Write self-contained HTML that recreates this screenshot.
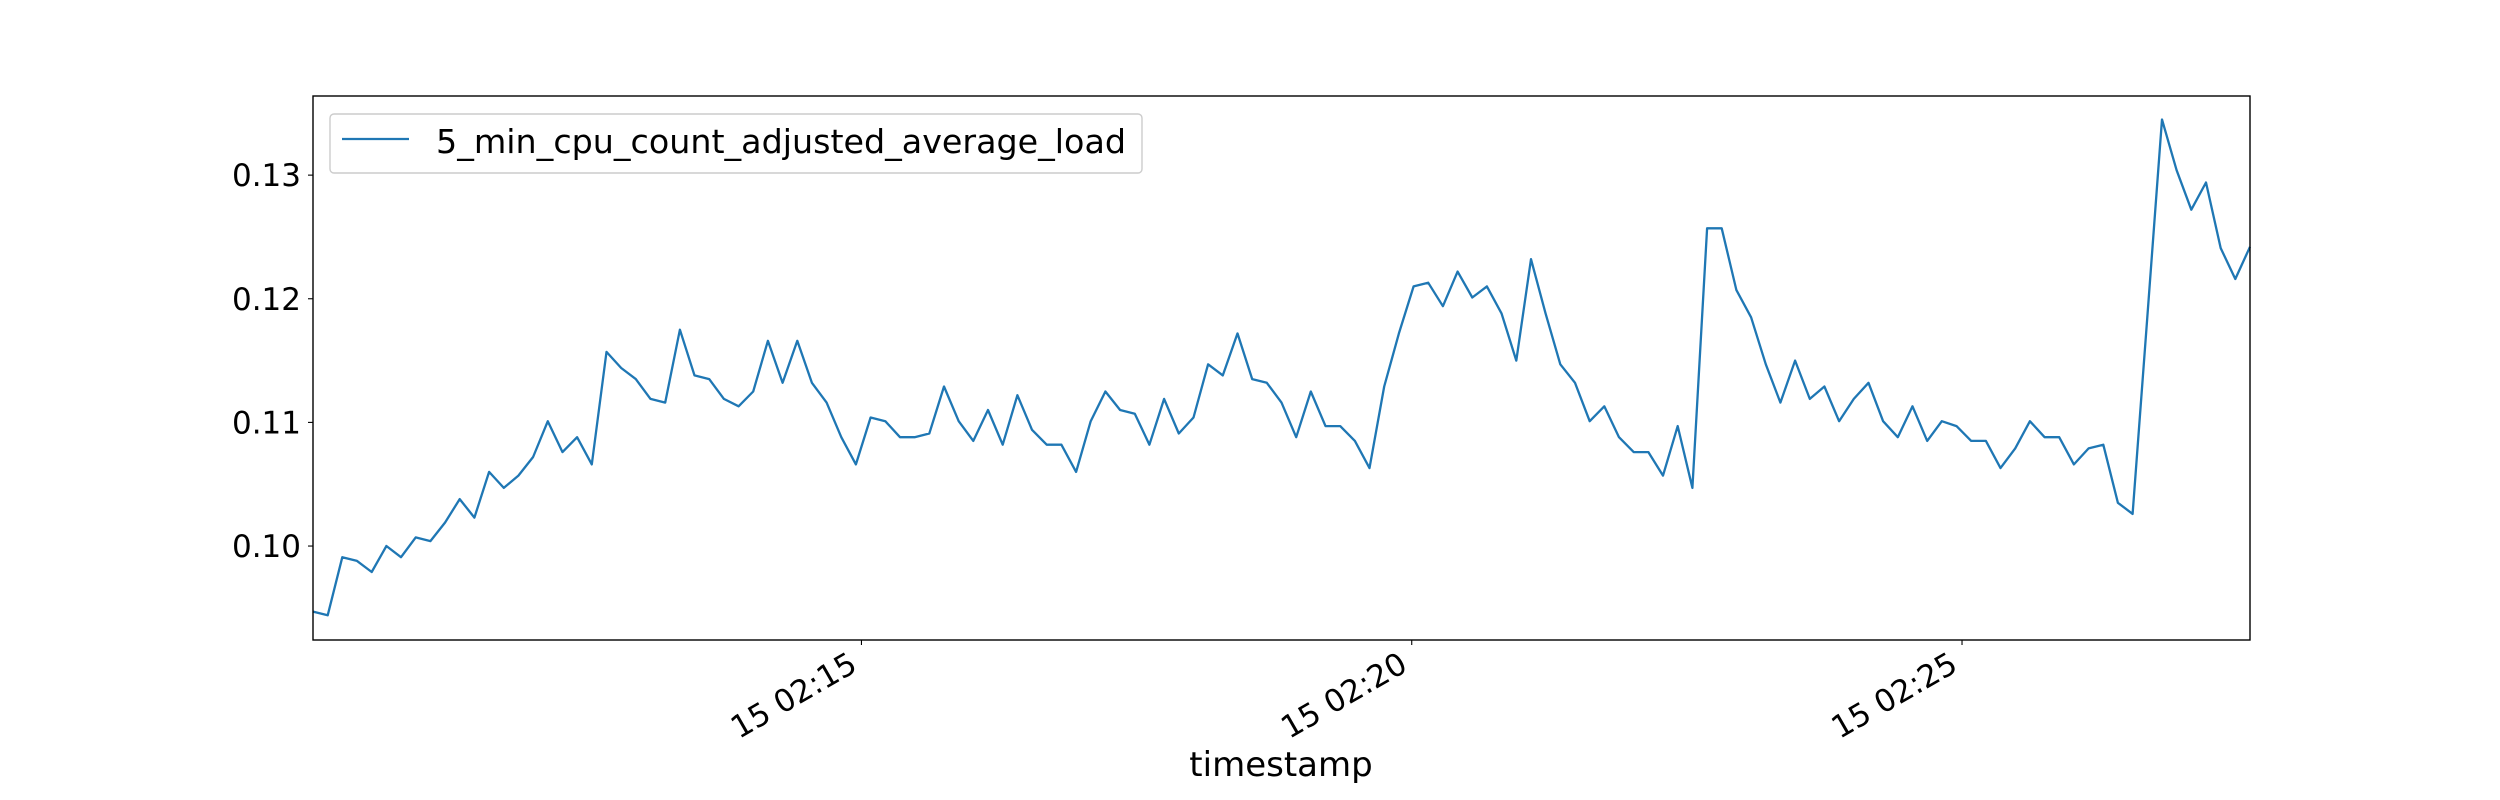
<!DOCTYPE html>
<html>
<head>
<meta charset="utf-8">
<style>
html,body{margin:0;padding:0;background:#fff;}
svg{display:block;font-family:"DejaVu Sans","Liberation Sans",sans-serif;}
</style>
</head>
<body>
<svg id="chart" width="2500" height="800" viewBox="0 0 2500 800" xmlns="http://www.w3.org/2000/svg">
<rect x="0" y="0" width="2500" height="800" fill="#fff"/>
<g id="ticks"></g>
<path id="series-line" fill="none" stroke="#1f77b4" stroke-width="2.3" stroke-linejoin="round"/>
<rect x="313" y="96" width="1937" height="544" fill="none" stroke="#000" stroke-width="1.4"/>
<g>
<rect x="330" y="114" width="812" height="59" rx="4" fill="#fff" fill-opacity="0.8" stroke="#ccc" stroke-width="1.4"/>
<line x1="342" y1="139" x2="409" y2="139" stroke="#1f77b4" stroke-width="2.3"/>
<text x="436" y="153" font-size="33" textLength="690" lengthAdjust="spacingAndGlyphs">5_min_cpu_count_adjusted_average_load</text>
</g>
<text x="1281" y="776" font-size="34" text-anchor="middle">timestamp</text>
</svg>
<script>
const values = [0.0947,0.0944,0.0991,0.0988,0.0979,0.1000,0.0991,0.1007,0.1004,0.1019,0.1038,0.1023,0.1060,0.1047,0.1057,0.1072,0.1101,0.1076,0.1088,0.1066,0.1157,0.1144,0.1135,0.1119,0.1116,0.1175,0.1138,0.1135,0.1119,0.1113,0.1125,0.1166,0.1132,0.1166,0.1132,0.1116,0.1088,0.1066,0.1104,0.1101,0.1088,0.1088,0.1091,0.1129,0.1101,0.1085,0.1110,
0.1082,0.1122,0.1094,0.1082,0.1082,0.1060,0.1101,0.1125,0.1110,0.1107,0.1082,0.1119,0.1091,0.1104,0.1147,0.1138,0.1172,0.1135,0.1132,0.1116,0.1088,0.1125,0.1097,0.1097,0.1085,0.1063,0.1129,0.1172,0.1210,0.1213,0.1194,0.1222,0.1201,0.1210,0.1188,0.1150,0.1232,0.1188,0.1147,0.1132,0.1101,0.1113,0.1088,0.1076,0.1076,
0.1057,0.1097,0.1047,0.1257,0.1257,0.1207,0.1185,0.1147,0.1116,0.1150,0.1119,0.1129,0.1101,0.1119,0.1132,0.1101,0.1088,0.1113,0.1085,0.1101,0.1097,0.1085,0.1085,0.1063,0.1079,0.1101,0.1088,0.1088,0.1066,0.1079,0.1082,0.1035,0.1026,0.1185,0.1345,0.1304,0.1272,0.1294,0.1241,0.1216,0.1242];
const startSeconds = 601;      // seconds after 02:00 for first sample
const stepSeconds = 8;
const yTicks = [0.10,0.11,0.12,0.13];
const yTickLabels = ["0.10","0.11","0.12","0.13"];
const xTicks = [900,1200,1500];
const xTickLabels = ["15 02:15","15 02:20","15 02:25"];

const L=313,R=2250,T=96,B=640;
const xMin=startSeconds, xMax=startSeconds+(values.length-1)*stepSeconds, yMin=0.0924, yMax=0.1364;
const xs=t=>L+(t-xMin)/(xMax-xMin)*(R-L);
const ys=v=>B-(v-yMin)/(yMax-yMin)*(B-T);
const NS="http://www.w3.org/2000/svg";
const g=document.getElementById('ticks');

let d="";
values.forEach((v,i)=>{const t=startSeconds+i*stepSeconds;d+=(i?"L":"M")+xs(t).toFixed(1)+","+ys(v).toFixed(1);});
document.getElementById('series-line').setAttribute('d',d);

yTicks.forEach((v,i)=>{
  const y=ys(v);
  const ln=document.createElementNS(NS,'line');
  ln.setAttribute('x1',L-5);ln.setAttribute('x2',L);ln.setAttribute('y1',y);ln.setAttribute('y2',y);
  ln.setAttribute('stroke','#000');ln.setAttribute('stroke-width','1.1');
  
  
  g.appendChild(ln);
  const tx=document.createElementNS(NS,'text');
  tx.setAttribute('x',L-12);tx.setAttribute('y',y+11);tx.setAttribute('text-anchor','end');tx.setAttribute('font-size','31');
  tx.textContent=yTickLabels[i];
  
  
  g.appendChild(tx);
});
xTicks.forEach((t,i)=>{
  const x=xs(t);
  const ln=document.createElementNS(NS,'line');
  ln.setAttribute('x1',x);ln.setAttribute('x2',x);ln.setAttribute('y1',B);ln.setAttribute('y2',B+5);
  ln.setAttribute('stroke','#000');ln.setAttribute('stroke-width','1.1');
  
  
  g.appendChild(ln);
  const tx=document.createElementNS(NS,'text');
  const ax=x-14, ay=B+10;
  tx.setAttribute('x',ax);tx.setAttribute('y',ay+23);tx.setAttribute('text-anchor','end');tx.setAttribute('font-size','31');
  tx.setAttribute('transform','rotate(-30 '+ax+' '+ay+')');
  tx.textContent=xTickLabels[i];
  
  
  g.appendChild(tx);
});
</script>
</body>
</html>
